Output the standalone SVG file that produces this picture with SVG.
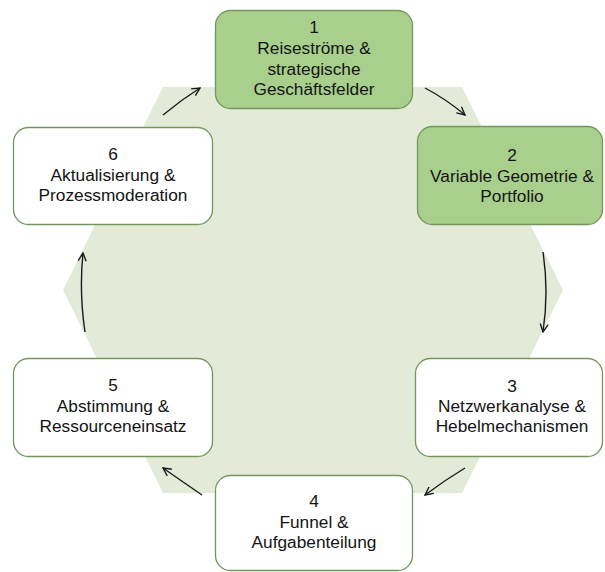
<svg xmlns="http://www.w3.org/2000/svg" width="605" height="572" viewBox="0 0 605 572">
<defs>
<style>
.hex{fill:#e3ebd8;stroke:none}
.box{stroke:#74965c;stroke-width:1.3}
.g{fill:#a9cf8d}
.w{fill:#ffffff}
text{font-family:"Liberation Sans",Arial,sans-serif;font-size:17.3px;fill:#141414;text-anchor:middle}
.c{fill:none;stroke:#1a1a1a;stroke-width:1.4}
</style>
<marker id="ah" viewBox="0 0 10 10" refX="9" refY="5" markerWidth="10" markerHeight="10" markerUnits="userSpaceOnUse" orient="auto">
<path d="M1,1 L9,5 L1,9" fill="none" stroke="#1a1a1a" stroke-width="1.4"/>
</marker>
</defs>
<rect width="605" height="572" fill="#ffffff"/>
<polygon class="hex" points="163,87 462,87 563,290 462,493 163,493 63,290"/>
<g id="connectors">
<path class="c" d="M425,88 Q446,99 465,115" marker-end="url(#ah)"/>
<path class="c" d="M543,252 Q549,292 543,332" marker-end="url(#ah)"/>
<path class="c" d="M465,468 Q445,480 425,495" marker-end="url(#ah)"/>
<path class="c" d="M202,495 Q183,482 163,468" marker-end="url(#ah)"/>
<path class="c" d="M85,332 Q79,292 83,253" marker-end="url(#ah)"/>
<path class="c" d="M163,115 Q181,100 200,88" marker-end="url(#ah)"/>
</g>
<g id="node1">
<rect class="box g" x="215.5" y="10.5" width="197" height="98" rx="15"/>
<text x="314" y="33">1</text>
<text x="314" y="54">Reiseströme &amp;</text>
<text x="314" y="74.5">strategische</text>
<text x="314" y="95">Geschäftsfelder</text>
</g>
<g id="node2">
<rect class="box g" x="417.5" y="126.5" width="185" height="98" rx="15"/>
<text x="512" y="161">2</text>
<text x="512" y="182">Variable Geometrie &amp;</text>
<text x="512" y="202">Portfolio</text>
</g>
<g id="node3">
<rect class="box w" x="415.5" y="358.5" width="187" height="98" rx="15"/>
<text x="512" y="392">3</text>
<text x="512" y="412">Netzwerkanalyse &amp;</text>
<text x="512" y="432">Hebelmechanismen</text>
</g>
<g id="node4">
<rect class="box w" x="215.5" y="475.5" width="197" height="95" rx="15"/>
<text x="314" y="507">4</text>
<text x="314" y="528">Funnel &amp;</text>
<text x="314" y="548">Aufgabenteilung</text>
</g>
<g id="node5">
<rect class="box w" x="13.5" y="358.5" width="199" height="98" rx="15"/>
<text x="113" y="391">5</text>
<text x="113" y="412">Abstimmung &amp;</text>
<text x="113" y="432">Ressourceneinsatz</text>
</g>
<g id="node6">
<rect class="box w" x="13.5" y="127.5" width="199" height="97" rx="15"/>
<text x="113" y="160">6</text>
<text x="113" y="181">Aktualisierung &amp;</text>
<text x="113" y="201">Prozessmoderation</text>
</g>
</svg>
